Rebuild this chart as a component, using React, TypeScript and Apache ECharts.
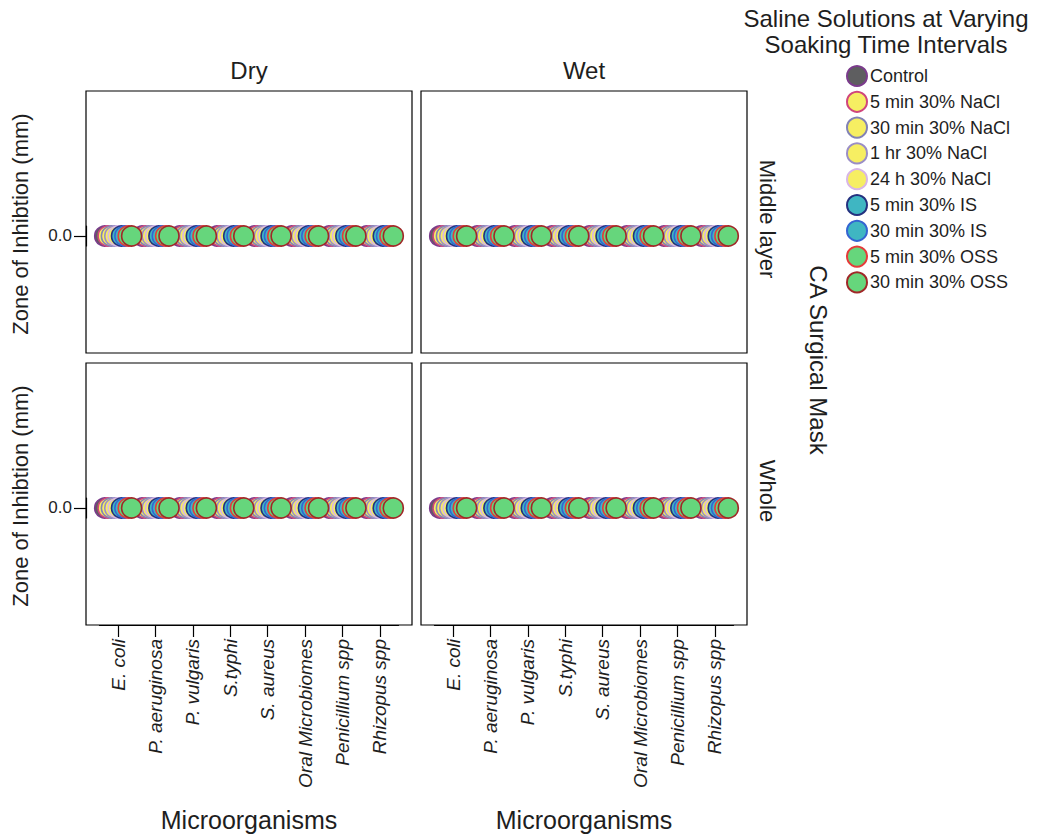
import React, { useEffect, useRef } from "react";
import * as echarts from "echarts";

const categories = [
  "E. coli",
  "P. aeruginosa",
  "P. vulgaris",
  "S.typhi",
  "S. aureus",
  "Oral Microbiomes",
  "Penicillium spp",
  "Rhizopus spp",
];

const treatments = [
  "Control",
  "5 min 30% NaCl",
  "30 min 30% NaCl",
  "1 hr 30% NaCl",
  "24 h 30% NaCl",
  "5 min 30% IS",
  "30 min 30% IS",
  "5 min 30% OSS",
  "30 min 30% OSS",
];

const panelColumns = ["Dry", "Wet"];
const panelRows = ["Middle layer", "Whole"];
const yTickLabels = ["0.0"];

// Zone of inhibition (mm): one row per treatment, one value per microorganism
const dryMiddle = [
  [0, 0, 0, 0, 0, 0, 0, 0],
  [0, 0, 0, 0, 0, 0, 0, 0],
  [0, 0, 0, 0, 0, 0, 0, 0],
  [0, 0, 0, 0, 0, 0, 0, 0],
  [0, 0, 0, 0, 0, 0, 0, 0],
  [0, 0, 0, 0, 0, 0, 0, 0],
  [0, 0, 0, 0, 0, 0, 0, 0],
  [0, 0, 0, 0, 0, 0, 0, 0],
  [0, 0, 0, 0, 0, 0, 0, 0],
];
const wetMiddle = [
  [0, 0, 0, 0, 0, 0, 0, 0],
  [0, 0, 0, 0, 0, 0, 0, 0],
  [0, 0, 0, 0, 0, 0, 0, 0],
  [0, 0, 0, 0, 0, 0, 0, 0],
  [0, 0, 0, 0, 0, 0, 0, 0],
  [0, 0, 0, 0, 0, 0, 0, 0],
  [0, 0, 0, 0, 0, 0, 0, 0],
  [0, 0, 0, 0, 0, 0, 0, 0],
  [0, 0, 0, 0, 0, 0, 0, 0],
];
const dryWhole = [
  [0, 0, 0, 0, 0, 0, 0, 0],
  [0, 0, 0, 0, 0, 0, 0, 0],
  [0, 0, 0, 0, 0, 0, 0, 0],
  [0, 0, 0, 0, 0, 0, 0, 0],
  [0, 0, 0, 0, 0, 0, 0, 0],
  [0, 0, 0, 0, 0, 0, 0, 0],
  [0, 0, 0, 0, 0, 0, 0, 0],
  [0, 0, 0, 0, 0, 0, 0, 0],
  [0, 0, 0, 0, 0, 0, 0, 0],
];
const wetWhole = [
  [0, 0, 0, 0, 0, 0, 0, 0],
  [0, 0, 0, 0, 0, 0, 0, 0],
  [0, 0, 0, 0, 0, 0, 0, 0],
  [0, 0, 0, 0, 0, 0, 0, 0],
  [0, 0, 0, 0, 0, 0, 0, 0],
  [0, 0, 0, 0, 0, 0, 0, 0],
  [0, 0, 0, 0, 0, 0, 0, 0],
  [0, 0, 0, 0, 0, 0, 0, 0],
  [0, 0, 0, 0, 0, 0, 0, 0],
];

const fillColors = [
  "#5e5e60",
  "#f6ee62",
  "#f6ee62",
  "#f6ee62",
  "#f6ee62",
  "#3fb6c2",
  "#3fb6c2",
  "#66d67c",
  "#66d67c",
];
const borderColors = [
  "#7b3b8c",
  "#d0467c",
  "#8282b6",
  "#9a8ec6",
  "#d8b6e6",
  "#24317f",
  "#3464d2",
  "#e63a3a",
  "#a02828",
];

const FONT = "'Liberation Sans', Arial, sans-serif";
const TEXT = "#1e1e1e";

export default function App() {
  const ref = useRef<HTMLDivElement>(null);

  useEffect(() => {
    document.body.style.margin = "0";
    const chart = echarts.init(ref.current!, null, { renderer: "svg" });

    const panels = [dryMiddle, wetMiddle, dryWhole, wetWhole];
    const lefts = [86, 421];
    const tops = [91, 363];
    const W = 326;
    const H = 262;
    const xMin = -0.86;
    const xMax = 7.86;
    const yMin = -0.807;
    const yMax = 1;
    const unit = W / (xMax - xMin);
    const dodge = 0.09;

    const grids: any[] = [];
    const xAxes: any[] = [];
    const yAxes: any[] = [];
    const series: any[] = [];

    const hiddenValueAxis = (gridIndex: number) => ({
      type: "value",
      gridIndex,
      show: false,
      min: 0,
      max: 1,
    });

    panels.forEach((panel, p) => {
      const col = p % 2;
      const row = Math.floor(p / 2);
      grids.push({
        left: lefts[col],
        top: tops[row],
        width: W,
        height: H,
        show: true,
        borderColor: "#000",
        borderWidth: 1.2,
        backgroundColor: "transparent",
      });
      xAxes.push({
        type: "value",
        gridIndex: p,
        min: xMin,
        max: xMax,
        show: false,
      });
      yAxes.push({
        type: "value",
        gridIndex: p,
        min: yMin,
        max: yMax,
        show: false,
      });
      panel.forEach((vals, s) => {
        series.push({
          type: "scatter",
          name: treatments[s],
          xAxisIndex: p,
          yAxisIndex: p,
          symbol: "circle",
          symbolSize: 20,
          z: 2 + s,
          itemStyle: {
            color: fillColors[s],
            borderColor: borderColors[s],
            borderWidth: 1.6,
            opacity: 1,
          },
          emphasis: { disabled: true },
          data: vals.map((v, i) => [i + (s - 4) * dodge, v]),
        });
      });
    });

    // x tick/label overlay grids (bottom row)
    [0, 1].forEach((c) => {
      const gi = grids.length;
      const first = lefts[c] + (0 - xMin) * unit;
      grids.push({
        left: first - unit / 2,
        top: tops[1],
        width: unit * categories.length,
        height: H,
        show: false,
      });
      xAxes.push({
        type: "category",
        gridIndex: gi,
        data: categories,
        boundaryGap: true,
        position: "bottom",
        axisLine: { show: true, onZero: false, lineStyle: { color: "#000", width: 1.2 } },
        axisTick: { show: true, alignWithLabel: true, length: 12, lineStyle: { color: "#000", width: 1.2 } },
        axisLabel: {
          rotate: 90,
          interval: 0,
          fontStyle: "italic",
          fontSize: 19,
          fontFamily: FONT,
          color: TEXT,
          margin: 14,
        },
        splitLine: { show: false },
      });
      yAxes.push(hiddenValueAxis(gi));
    });

    // y tick/label overlay grids (left column)
    [0, 1].forEach((r) => {
      const gi = grids.length;
      const zeroY = tops[r] + ((yMax - 0) / (yMax - yMin)) * H;
      grids.push({
        left: lefts[0],
        top: zeroY - 10,
        width: W,
        height: 20,
        show: false,
      });
      xAxes.push(hiddenValueAxis(gi));
      yAxes.push({
        type: "category",
        gridIndex: gi,
        data: yTickLabels,
        boundaryGap: true,
        position: "left",
        axisLine: { show: true, onZero: false, lineStyle: { color: "#000", width: 1.2 } },
        axisTick: { show: true, alignWithLabel: true, length: 12, lineStyle: { color: "#000", width: 1.2 } },
        axisLabel: {
          fontSize: 17,
          fontFamily: FONT,
          color: TEXT,
          margin: 14,
        },
        splitLine: { show: false },
      });
    });

    const graphics: any[] = [];
    panelColumns.forEach((name, c) => {
      const cx = lefts[c] + W / 2;
      graphics.push({
        type: "text",
        x: cx,
        y: 70,
        style: { text: name, font: `24px ${FONT}`, fill: TEXT, textAlign: "center", textVerticalAlign: "middle" },
      });
      graphics.push({
        type: "text",
        x: cx,
        y: 820,
        style: { text: "Microorganisms", font: `25px ${FONT}`, fill: TEXT, textAlign: "center", textVerticalAlign: "middle" },
      });
    });
    panelRows.forEach((name, r) => {
      const cy = tops[r] + H / 2;
      graphics.push({
        type: "text",
        x: 767,
        y: cy - 3,
        rotation: -Math.PI / 2,
        style: { text: name, font: `22px ${FONT}`, fill: TEXT, textAlign: "center", textVerticalAlign: "middle" },
      });
      graphics.push({
        type: "text",
        x: 20,
        y: cy + 2,
        rotation: Math.PI / 2,
        style: { text: "Zone of Inhibtion (mm)", font: `22px ${FONT}`, fill: TEXT, textAlign: "center", textVerticalAlign: "middle" },
      });
    });
    graphics.push({
      type: "text",
      x: 818,
      y: 360,
      rotation: -Math.PI / 2,
      style: { text: "CA Surgical Mask", font: `24px ${FONT}`, fill: TEXT, textAlign: "center", textVerticalAlign: "middle" },
    });
    graphics.push({
      type: "text",
      x: 886,
      y: 18,
      style: { text: "Saline Solutions at Varying", font: `24px ${FONT}`, fill: TEXT, textAlign: "center", textVerticalAlign: "middle" },
    });
    graphics.push({
      type: "text",
      x: 886,
      y: 44,
      style: { text: "Soaking Time Intervals", font: `24px ${FONT}`, fill: TEXT, textAlign: "center", textVerticalAlign: "middle" },
    });

    chart.setOption({
      animation: false,
      backgroundColor: "#fff",
      grid: grids,
      xAxis: xAxes,
      yAxis: yAxes,
      series,
      legend: {
        orient: "vertical",
        left: 846,
        top: 65,
        padding: 0,
        itemWidth: 20,
        itemHeight: 20,
        itemGap: 3.8,
        icon: "circle",
        selectedMode: false,
        data: treatments,
        textStyle: { fontSize: 18, fontFamily: FONT, color: TEXT, padding: [0, 0, 0, -2] },
      },
      graphic: graphics,
    });

    return () => chart.dispose();
  }, []);

  return <div ref={ref} style={{ width: 1038, height: 839 }} />;
}
